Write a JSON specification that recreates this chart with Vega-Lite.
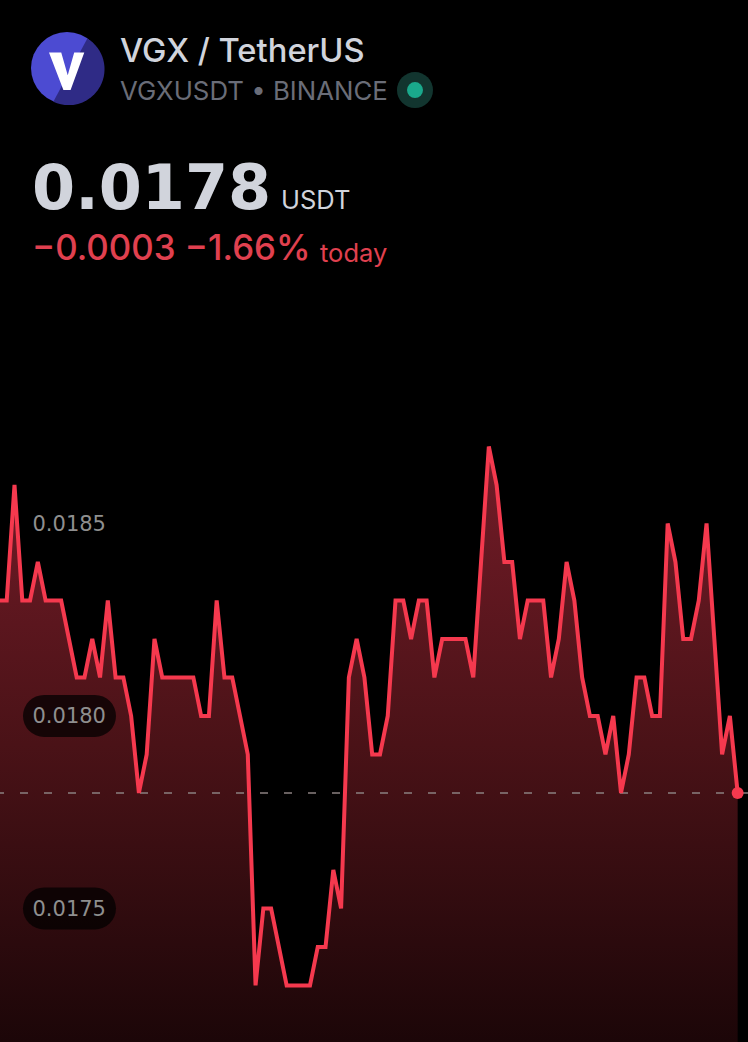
{"$schema":"https://vega.github.io/schema/vega-lite/v6.json","width":748,"height":1042,"padding":0,"autosize":{"type":"none"},"background":"#000000","view":{"stroke":null},"config":{"font":"Inter"},
"data":{"values":[{"i":0,"price":0.0183},{"i":1,"price":0.0183},{"i":2,"price":0.0186},{"i":3,"price":0.0183},{"i":4,"price":0.0183},{"i":5,"price":0.0184},{"i":6,"price":0.0183},{"i":7,"price":0.0183},{"i":8,"price":0.0183},{"i":9,"price":0.0182},{"i":10,"price":0.0181},{"i":11,"price":0.0181},{"i":12,"price":0.0182},{"i":13,"price":0.0181},{"i":14,"price":0.0183},{"i":15,"price":0.0181},{"i":16,"price":0.0181},{"i":17,"price":0.018},{"i":18,"price":0.0178},{"i":19,"price":0.0179},{"i":20,"price":0.0182},{"i":21,"price":0.0181},{"i":22,"price":0.0181},{"i":23,"price":0.0181},{"i":24,"price":0.0181},{"i":25,"price":0.0181},{"i":26,"price":0.018},{"i":27,"price":0.018},{"i":28,"price":0.0183},{"i":29,"price":0.0181},{"i":30,"price":0.0181},{"i":31,"price":0.018},{"i":32,"price":0.0179},{"i":33,"price":0.0173},{"i":34,"price":0.0175},{"i":35,"price":0.0175},{"i":36,"price":0.0174},{"i":37,"price":0.0173},{"i":38,"price":0.0173},{"i":39,"price":0.0173},{"i":40,"price":0.0173},{"i":41,"price":0.0174},{"i":42,"price":0.0174},{"i":43,"price":0.0176},{"i":44,"price":0.0175},{"i":45,"price":0.0181},{"i":46,"price":0.0182},{"i":47,"price":0.0181},{"i":48,"price":0.0179},{"i":49,"price":0.0179},{"i":50,"price":0.018},{"i":51,"price":0.0183},{"i":52,"price":0.0183},{"i":53,"price":0.0182},{"i":54,"price":0.0183},{"i":55,"price":0.0183},{"i":56,"price":0.0181},{"i":57,"price":0.0182},{"i":58,"price":0.0182},{"i":59,"price":0.0182},{"i":60,"price":0.0182},{"i":61,"price":0.0181},{"i":62,"price":0.0184},{"i":63,"price":0.0187},{"i":64,"price":0.0186},{"i":65,"price":0.0184},{"i":66,"price":0.0184},{"i":67,"price":0.0182},{"i":68,"price":0.0183},{"i":69,"price":0.0183},{"i":70,"price":0.0183},{"i":71,"price":0.0181},{"i":72,"price":0.0182},{"i":73,"price":0.0184},{"i":74,"price":0.0183},{"i":75,"price":0.0181},{"i":76,"price":0.018},{"i":77,"price":0.018},{"i":78,"price":0.0179},{"i":79,"price":0.018},{"i":80,"price":0.0178},{"i":81,"price":0.0179},{"i":82,"price":0.0181},{"i":83,"price":0.0181},{"i":84,"price":0.018},{"i":85,"price":0.018},{"i":86,"price":0.0185},{"i":87,"price":0.0184},{"i":88,"price":0.0182},{"i":89,"price":0.0182},{"i":90,"price":0.0183},{"i":91,"price":0.0185},{"i":92,"price":0.0182},{"i":93,"price":0.0179},{"i":94,"price":0.018},{"i":95,"price":0.0178}]},
"layer":[
{"mark":{"type":"area","clip":true,"interpolate":"linear","color":{"gradient":"linear","x1":0,"y1":0,"x2":0,"y2":1,"stops":[{"offset":0,"color":"#741c28"},{"offset":0.5,"color":"#4a1217"},{"offset":1,"color":"#1c0608"}]}},
"encoding":{"x":{"field":"i","type":"quantitative","scale":{"domain":[0.135,96.33],"nice":false,"zero":false},"axis":null},"y":{"field":"price","type":"quantitative","scale":{"domain":[0.017153,0.01986],"nice":false,"zero":false},"axis":{"orient":"left","values":[0.0175,0.018,0.0185],"format":".4f","title":null,"domain":false,"ticks":false,"grid":false,"labelAlign":"left","labelBaseline":"middle","labelPadding":-32,"labelOffset":1,"labelFont":"DejaVu Sans","labelFontSize":21,"labelFontWeight":400,"labelColor":"#8f8f8f","zindex":1}},"y2":{"datum":0.017153}}},
{"data":{"values":[{"level":0.018},{"level":0.0175}]},"mark":{"type":"rule","strokeWidth":42,"strokeCap":"round","color":"#000000","opacity":0.72},"encoding":{"x":{"datum":5.79,"type":"quantitative"},"x2":{"datum":12.35},"y":{"field":"level","type":"quantitative"}}},
{"data":{"values":[{"level":0.0178}]},"mark":{"type":"rule","strokeWidth":1.5,"strokeDash":[8,16],"color":"#8a8080"},"encoding":{"y":{"field":"level","type":"quantitative"}}},
{"mark":{"type":"line","clip":true,"interpolate":"linear","color":"#f5394e","strokeWidth":4,"strokeJoin":"miter"},"encoding":{"x":{"field":"i","type":"quantitative"},"y":{"field":"price","type":"quantitative"}}},
{"transform":[{"filter":"datum.i === 95"}],"mark":{"type":"point","filled":true,"shape":"circle","size":144,"color":"#f5394e","opacity":1},"encoding":{"x":{"field":"i","type":"quantitative"},"y":{"field":"price","type":"quantitative"}}},
{"data":{"values":[{"part":"disc"}]},"mark":{"type":"point","filled":true,"shape":"circle","size":5184,"color":"#4c4bd2","opacity":1},"encoding":{"x":{"datum":8.751,"type":"quantitative"},"y":{"datum":0.01968312,"type":"quantitative"}}},
{"data":{"values":[{"part":"shade"}]},"mark":{"type":"point","filled":true,"shape":"M0.565,-0.824 A1,1 0 0 1 -0.38,0.935 Z","size":5184,"color":"#2f2b86","opacity":1},"encoding":{"x":{"datum":8.751,"type":"quantitative"},"y":{"datum":0.01968312,"type":"quantitative"}}},
{"data":{"values":[{"part":"V"}]},"mark":{"type":"point","filled":true,"shape":"M-0.5,-0.435 L-0.16,-0.435 L0.02,0.2 L0.2,-0.435 L0.48,-0.435 L0.1,0.61 L-0.1,0.61 Z","size":5184,"color":"#ffffff","opacity":1},"encoding":{"x":{"datum":8.751,"type":"quantitative"},"y":{"datum":0.01968312,"type":"quantitative"}}},
{"data":{"values":[{"part":"halo"}]},"mark":{"type":"point","filled":true,"shape":"circle","size":1296,"color":"#12352f","opacity":1},"encoding":{"x":{"datum":53.504,"type":"quantitative"},"y":{"datum":0.01962597,"type":"quantitative"}}},
{"data":{"values":[{"part":"dot"}]},"mark":{"type":"point","filled":true,"shape":"circle","size":256,"color":"#1aa98c","opacity":1},"encoding":{"x":{"datum":53.504,"type":"quantitative"},"y":{"datum":0.01962597,"type":"quantitative"}}},
{"data":{"values":[{"label":"VGX / TetherUS"}]},"mark":{"type":"text","align":"left","baseline":"alphabetic","font":"Inter","fontSize":32.7,"fontWeight":500,"color":"#d1d4dc"},"encoding":{"x":{"datum":15.567,"type":"quantitative"},"y":{"datum":0.0196987,"type":"quantitative"},"text":{"field":"label"}}},
{"data":{"values":[{"label":"VGXUSDT • BINANCE"}]},"mark":{"type":"text","align":"left","baseline":"alphabetic","font":"Inter","fontSize":25.8,"fontWeight":400,"color":"#6a6d78"},"encoding":{"x":{"datum":15.567,"type":"quantitative"},"y":{"datum":0.0196,"type":"quantitative"},"text":{"field":"label"}}},
{"data":{"values":[{"label":"0.0178"}]},"mark":{"type":"text","align":"left","baseline":"alphabetic","font":"DejaVu Sans","fontSize":62,"fontWeight":700,"color":"#d1d4dc"},"encoding":{"x":{"datum":4.25,"type":"quantitative"},"y":{"datum":0.01931688,"type":"quantitative"},"text":{"field":"label"}}},
{"data":{"values":[{"label":"USDT"}]},"mark":{"type":"text","align":"left","baseline":"alphabetic","font":"Inter","fontSize":25.5,"fontWeight":400,"color":"#d1d4dc"},"encoding":{"x":{"datum":36.272,"type":"quantitative"},"y":{"datum":0.01931688,"type":"quantitative"},"text":{"field":"label"}}},
{"data":{"values":[{"label":"−0.0003 −1.66%"}]},"mark":{"type":"text","align":"left","baseline":"alphabetic","font":"Inter","fontSize":34.8,"fontWeight":500,"color":"#e0404f"},"encoding":{"x":{"datum":4.25,"type":"quantitative"},"y":{"datum":0.01918442,"type":"quantitative"},"text":{"field":"label"}}},
{"data":{"values":[{"label":"today"}]},"mark":{"type":"text","align":"left","baseline":"alphabetic","font":"Inter","fontSize":25.5,"fontWeight":400,"color":"#e0404f"},"encoding":{"x":{"datum":41.287,"type":"quantitative"},"y":{"datum":0.0191792,"type":"quantitative"},"text":{"field":"label"}}}
]}
